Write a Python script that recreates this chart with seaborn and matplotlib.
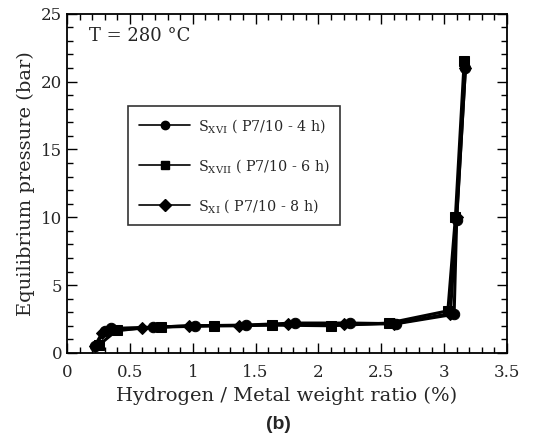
import numpy as np
import pandas as pd
import matplotlib
matplotlib.use("Agg")
import matplotlib.pyplot as plt
from matplotlib.lines import Line2D
from matplotlib.ticker import MultipleLocator
import seaborn as sns

# Data
x_xvi = [0.22, 0.30, 0.35, 0.68, 1.02, 1.42, 1.81, 2.25, 2.62, 3.08, 3.10, 3.17]
y_xvi = [0.5, 1.6, 1.8, 1.9, 2.0, 2.05, 2.2, 2.2, 2.15, 2.85, 9.8, 21.0]
x_xvii = [0.25, 0.40, 0.75, 1.17, 1.63, 2.10, 2.56, 3.03, 3.09, 3.16]
y_xvii = [0.55, 1.7, 1.9, 2.0, 2.05, 2.0, 2.2, 3.1, 10.0, 21.5]
x_xi = [0.22, 0.28, 0.60, 0.97, 1.37, 1.76, 2.20, 2.60, 3.05, 3.10, 3.17]
y_xi = [0.5, 1.5, 1.85, 2.0, 2.0, 2.1, 2.1, 2.15, 2.9, 10.0, 21.0]
labels = [r"S$_{\mathrm{XVI}}$ ( P7/10 - 4 h)",
          r"S$_{\mathrm{XVII}}$ ( P7/10 - 6 h)",
          r"S$_{\mathrm{XI}}$ ( P7/10 - 8 h)"]
markers = ["o", "s", "D"]

sns.set_style("ticks")
plt.rcParams["font.family"] = ["DejaVu Serif"]
plt.rcParams["mathtext.fontset"] = "dejavuserif"

fig = plt.figure(figsize=(5.41, 4.45), dpi=100)
ax = fig.add_axes([0.124, 0.207, 0.813, 0.762])

series = [(x_xvi, y_xvi), (x_xvii, y_xvii), (x_xi, y_xi)]
msizes = [7.5, 7.5, 6]
for (xs, ys), m, ms in zip(series, markers, msizes):
    df = pd.DataFrame({"x": xs, "y": ys})
    sns.lineplot(data=df, x="x", y="y", ax=ax, color="black", marker=m,
                 markersize=ms, markeredgecolor="black", linewidth=2.2,
                 sort=False, estimator=None)

ax.set_xlim(0, 3.5)
ax.set_ylim(0, 25)
ax.xaxis.set_major_locator(MultipleLocator(0.5))
ax.xaxis.set_minor_locator(MultipleLocator(0.1))
ax.yaxis.set_major_locator(MultipleLocator(5))
ax.yaxis.set_minor_locator(MultipleLocator(1))
ax.set_xticks([0, 0.5, 1, 1.5, 2, 2.5, 3, 3.5])
ax.set_xticklabels(["0", "0.5", "1", "1.5", "2", "2.5", "3", "3.5"])
ax.tick_params(which="both", direction="in", top=True, right=True,
               labelsize=12, color="black")
ax.tick_params(which="major", length=7, width=1)
ax.tick_params(which="minor", length=4, width=1)
ax.tick_params(axis="x", pad=8)
for s in ax.spines.values():
    s.set_visible(True)
    s.set_linewidth(1.3)
    s.set_color("black")

ax.set_xlabel("Hydrogen / Metal weight ratio (%)", fontsize=14)
ax.set_ylabel("Equilibrium pressure (bar)", fontsize=14)
ax.text(0.05, 0.935, "T = 280 °C", transform=ax.transAxes, fontsize=13,
        va="center", ha="left")

handles = [Line2D([], [], color="black", lw=1.2, marker=m, markersize=6)
           for m in markers]
leg = ax.legend(handles, labels, loc="upper left", bbox_to_anchor=(0.139, 0.728),
                fontsize=10.3, frameon=True, fancybox=False, handlelength=3.6,
                borderpad=0.75, labelspacing=1.55, handletextpad=0.5,
                borderaxespad=0)
leg.get_frame().set_edgecolor("black")
leg.get_frame().set_linewidth(1.2)

fig.text(0.515, 0.045, "(b)", fontsize=14, fontweight="bold",
         family=["Liberation Sans"], ha="center", va="center")

fig.savefig("out.png", dpi=100)
